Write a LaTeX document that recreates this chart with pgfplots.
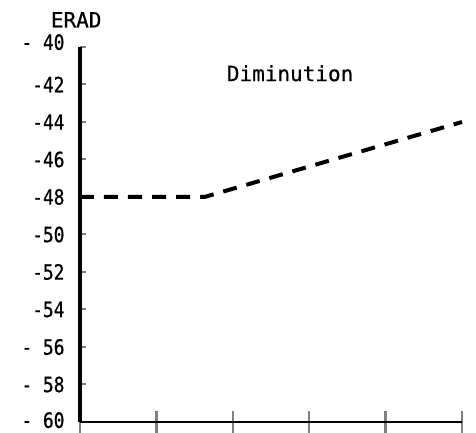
\documentclass[border=0pt]{standalone}
\usepackage{pgfplots}
\pgfplotsset{compat=1.18}
\usepackage{fontspec}
\setmainfont{DejaVu Sans Mono}
\newfontfamily\narrowfont[FakeStretch=0.85, FakeBold=0.8]{DejaVu Sans Mono}
\newfontfamily\plotfont[FakeBold=0.6]{DejaVu Sans Mono}
\begin{document}
\begin{tikzpicture}
\useasboundingbox (-80pt,-11pt) rectangle (396pt,422pt);
\begin{axis}[
  at={(0pt,0pt)}, anchor=south west,
  scale only axis, width=382pt, height=375pt,
  xmin=0, xmax=5, ymin=-60, ymax=-40,
  axis lines=left,
  x axis line style={-, line width=2.6pt},
  y axis line style={-, line width=3.6pt},
  clip=false,
  xtick={0,1,2,3,4,5}, xticklabels={},
  xtick align=center,
  xtick style={line width=2.4pt, /pgfplots/major tick length=22pt},
  ytick={-60,-58,-56,-54,-52,-50,-48,-46,-44,-42,-40},
  yticklabels={\raisebox{4pt}{-\ 60},-\ 58,-\ 56,-54,-52,-50,-48,-46,-44,-42,\raisebox{10pt}{-\ 40}},
  ytick align=inside,
  ytick style={line width=2pt, /pgfplots/major tick length=6pt},
  yticklabel style={font=\narrowfont\fontsize{21}{21}\selectfont, anchor=east, xshift=-12pt},
]
\addplot[black, line width=4pt, dash pattern=on 14pt off 10pt] coordinates {
  (0,-48) (1.63,-48) (5,-44)
};
\node[font=\plotfont\fontsize{21}{21}\selectfont] at (axis cs:2.75,-41.4) {Diminution};
\node[font=\plotfont\fontsize{21}{21}\selectfont] at (axis cs:-0.05,-38.55) {ERAD};
\end{axis}
\end{tikzpicture}
\end{document}
